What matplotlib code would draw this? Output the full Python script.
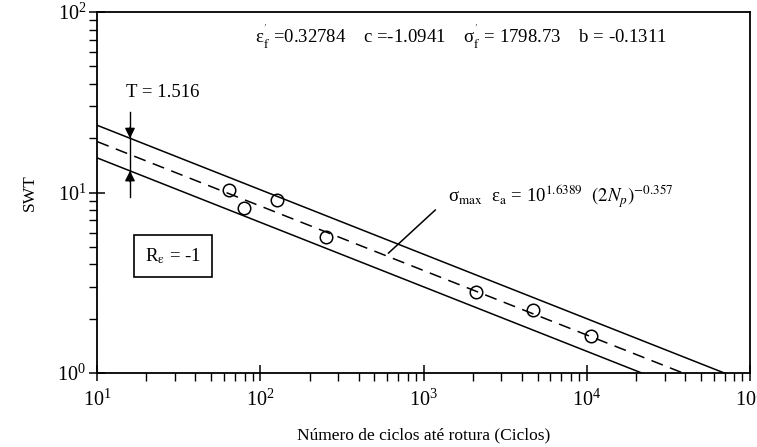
import numpy as np
import matplotlib
matplotlib.use("Agg")
import matplotlib.pyplot as plt

plt.rcParams['font.family'] = ['Liberation Serif', 'DejaVu Serif']
plt.rcParams['mathtext.fontset'] = 'stix'

# Experimental SWT results
cycles = [64.6, 79.4, 126, 253, 2104, 4690, 10690]
swt = [10.3, 8.24, 9.08, 5.69, 2.82, 2.23, 1.60]

# Fitted law and scatter band
log_coef = 1.6389
exponent = -0.357
band_T = 1.516

fig = plt.figure(figsize=(7.57, 4.47), dpi=100)
ax = fig.add_axes([0.1285, 0.1655, 0.862, 0.8076])
ax.set_xscale('log')
ax.set_yscale('log')
ax.set_xlim(10, 1e5)
ax.set_ylim(1, 100)

n = np.logspace(1, 5, 200)
mean = 10 ** log_coef * n ** exponent
k = np.sqrt(band_T)
ax.plot(n, mean * k, color='black', lw=1.1)
ax.plot(n, mean, color='black', lw=1.1, dashes=(8, 5))
ax.plot(n, mean / k, color='black', lw=1.1)

ax.plot(cycles, swt, 'o', ms=9, mfc='none', mec='black', mew=1.1)

# Band width indicator
xa = 15.87
up = 10 ** log_coef * xa ** exponent * k
lo = 10 ** log_coef * xa ** exponent / k
ax.plot([xa, xa], [28.1, 9.48], color='black', lw=1.0)
ax.annotate('', xy=(xa, up), xytext=(xa, up * 1.15),
            arrowprops=dict(arrowstyle='-|>', color='black', lw=1.0,
                            mutation_scale=15, shrinkA=0, shrinkB=0))
ax.annotate('', xy=(xa, lo), xytext=(xa, lo / 1.15),
            arrowprops=dict(arrowstyle='-|>', color='black', lw=1.0,
                            mutation_scale=15, shrinkA=0, shrinkB=0))
ax.text(0.044, 0.776, 'T = 1.516', transform=ax.transAxes, fontsize=13.5,
        ha='left', va='center')

# Equation label with leader line
ax.plot([610, 1180], [4.62, 8.0], color='black', lw=1.1)
ax.text(1419, 9.57,
        r'σ$_\mathrm{max}$  ε$_\mathrm{a}$ = 10$^{\mathrm{1.6389}}$  $(2N_p)^{\mathrm{-0.357}}$',
        fontsize=13.5, ha='left', va='center')

ax.text(0.242, 0.931,
        r"ε$_\mathrm{f}^{\mathrm{'}}$ =0.32784    c =-1.0941    σ$_\mathrm{f}^{\mathrm{'}}$ = 1798.73    b = -0.1311",
        transform=ax.transAxes, fontsize=13.5, ha='left', va='center')

ax.text(0.116, 0.325, r'R$_\mathrm{ε}$ = -1', transform=ax.transAxes,
        fontsize=13.5, ha='center', va='center',
        bbox=dict(boxstyle='square,pad=0.6', fc='white', ec='black', lw=1.2))

ax.set_xlabel('Número de ciclos até rotura (Ciclos)', fontsize=12.5, labelpad=12)
ax.set_ylabel('SWT', fontsize=12.5, labelpad=14)

for s in ax.spines.values():
    s.set_linewidth(1.3)
ax.tick_params(which='major', direction='inout', length=12, width=1.1,
               labelsize=14.5, pad=6)
ax.tick_params(which='minor', direction='out', length=6, width=1.0)
ax.tick_params(axis='y', which='major', pad=2)

fig.savefig('out.png', dpi=100)
